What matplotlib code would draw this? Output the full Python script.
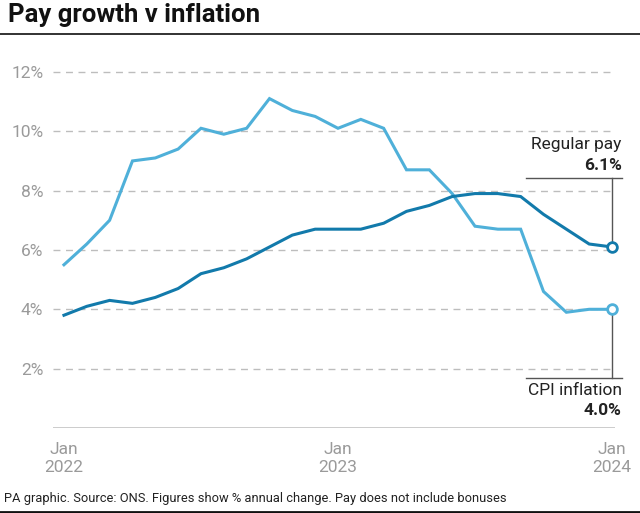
import matplotlib
matplotlib.use("Agg")
import matplotlib.pyplot as plt
from matplotlib.lines import Line2D

# monthly, Jan 2022 .. Jan 2024
months = list(range(25))
cpi = [5.5, 6.2, 7.0, 9.0, 9.1, 9.4, 10.1, 9.9, 10.1, 11.1, 10.7, 10.5,
       10.1, 10.4, 10.1, 8.7, 8.7, 7.9, 6.8, 6.7, 6.7, 4.6, 3.9, 4.0, 4.0]
pay = [3.8, 4.1, 4.3, 4.2, 4.4, 4.7, 5.2, 5.4, 5.7, 6.1, 6.5, 6.7,
       6.7, 6.7, 6.9, 7.3, 7.5, 7.8, 7.9, 7.9, 7.8, 7.2, 6.7, 6.2, 6.1]
yticks = [2, 4, 6, 8, 10, 12]
xticks = [0, 12, 24]
xlabels = ["Jan\n2022", "Jan\n2023", "Jan\n2024"]

plt.rcParams['font.family'] = ['Roboto', 'DejaVu Sans']

cpi_col = "#4fb0d9"
pay_col = "#127aab"
grey = "#9a9a9a"

fig = plt.figure(figsize=(6.4, 5.13), dpi=100)
ax = fig.add_axes([0.0828, 0.1657, 0.8781, 0.7115])

ax.set_xlim(-0.48, 24.13)
ax.set_ylim(0, 12.3)

for y in yticks:
    ax.axhline(y, color="#bdbdbd", lw=1, dashes=(5, 4), zorder=1)
ax.axhline(0, color="#c8c8c8", lw=2, zorder=1)

ax.plot(months, cpi, color=cpi_col, lw=2.2, zorder=3, solid_joinstyle="miter")
ax.plot(months, pay, color=pay_col, lw=2.2, zorder=3, solid_joinstyle="miter")
ax.plot(months[-1], cpi[-1], "o", ms=7, mfc="white", mec=cpi_col, mew=2, zorder=5, clip_on=False)
ax.plot(months[-1], pay[-1], "o", ms=7, mfc="white", mec=pay_col, mew=2, zorder=5, clip_on=False)

# annotation leaders
ax.plot([24, 24], [pay[-1] + 0.2, 8.43], color="#555555", lw=1, clip_on=False, zorder=2)
ax.plot([20.23, 24.42], [8.43, 8.43], color="#555555", lw=1, clip_on=False, zorder=2)
ax.plot([24, 24], [cpi[-1] - 0.2, 1.69], color="#555555", lw=1, clip_on=False, zorder=2)
ax.plot([20.23, 24.42], [1.69, 1.69], color="#555555", lw=1, clip_on=False, zorder=2)

ax.text(24.42, 9.3, "Regular pay", ha="right", va="bottom", fontsize=12.5, color="#222222")
ax.text(24.42, 8.6, "%.1f%%" % pay[-1], ha="right", va="bottom", fontsize=12.5,
        fontweight="bold", color="#222222")
ax.text(24.42, 1.5, "CPI inflation", ha="right", va="top", fontsize=12.5, color="#222222")
ax.text(24.42, 0.85, "%.1f%%" % cpi[-1], ha="right", va="top", fontsize=12.5,
        fontweight="bold", color="#222222")

ax.set_yticks(yticks)
ax.set_yticklabels(["%d%%" % y for y in yticks])
ax.set_xticks(xticks)
ax.set_xticklabels(xlabels, linespacing=1.25)
ax.tick_params(axis="y", length=0, pad=7, labelsize=12.5, labelcolor=grey)
ax.tick_params(axis="x", length=0, pad=10, labelsize=12.5, labelcolor=grey)
for s in ax.spines.values():
    s.set_visible(False)

fig.text(0.0125, 0.97, "Pay growth v inflation", fontsize=18.5, fontweight="bold",
         ha="left", va="center", color="#111111")
fig.add_artist(Line2D([0, 1], [0.934, 0.934], color="#222222", lw=1.3, transform=fig.transFigure))
fig.text(0.006, 0.029, "PA graphic. Source: ONS. Figures show % annual change. Pay does not include bonuses",
         fontsize=9.3, ha="left", va="center", color="#222222")
fig.add_artist(Line2D([0, 1], [0.002, 0.002], color="#111111", lw=2, transform=fig.transFigure))

fig.savefig("out.png", dpi=100)
